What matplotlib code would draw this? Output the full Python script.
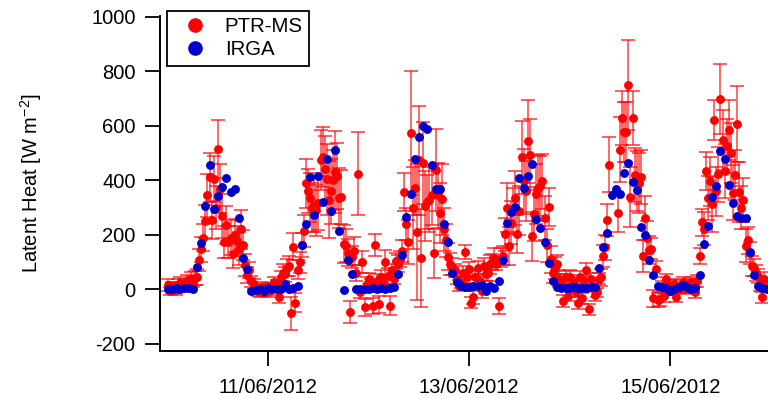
import numpy as np
import matplotlib
matplotlib.use("Agg")
import matplotlib.pyplot as plt
import matplotlib.dates as mdates
from matplotlib.lines import Line2D

plt.rcParams['font.family'] = ['Liberation Sans', 'DejaVu Sans']
plt.rcParams['mathtext.default'] = 'regular'

# ---------------- data ----------------
irga_start = np.datetime64('2012-06-10T00:00')   # hourly IRGA
ptr_start = np.datetime64('2012-06-10T00:00')    # half-hourly PTR-MS

irga_le = [
    3, 2, 4, 3, 5, 6, 2,
    83, 170, 308, 455, 294, 342, 375, 408, 357, 370, 262, 115, 74, -4,
    -2, 3, -6, 4, 2, 3, 2, 19, 2, 5, 12,
    162, 240, 411, 274, 418, 322, 477, 289, 513, 213, -3, 108, 58, 0,
    1, 3, 2, 4, 3, 5, 2, 6, 10,
    58, 128, 265, 351, 479, 558, 599, 590, 455, 370, 370, 239, 173, 60, 29, 13,
    8, 10, 12, 13, 15, -5, 13, 4, 32, 108,
    245, 284, 304, 410, 372, 418, 462, 257, 227, 174, 96, 31, 8, 5,
    7, 6, 8, 5, 7, 6, 8, 10,
    78, 154, 206, 345, 367, 352, 428, 463, 395, 365, 228, 200, 107, 53, 12, 8,
    4, -5, 2, 10, 18, 8, 2, 5,
    52, 166, 233, 339, 380, 507, 480, 384, 319, 270, 262, 264, 138, 53, 13, 5, 3,
]

nan = np.nan
ptr_le = [
    15, -5, 8, 10, -3, 15, 25, 8, 20, 30, 15, 38, 28, 42,
    45, 108, 147, 190, 250, 345, 412, 255, 405, 300, 516, 370, 270, 174, 235, 174,
    190, 129, 199, 178, 150, 220, 163, 89, 52, 72,
    30, 19, 5, -5, -11, 8, -8, 3, -6, 10, 0, 26, 15, -26, 44, 62, 55, 80, 86, -87,
    157, -48, 72, 99, 163, 214,
    389, 361, 336, 300, 310, 290, 318, 474, 487, 443, 404, 330, 360, 400, 430, 416,
    336, 340, 166, 160, 135, -84, 120, 141, 60, 424, -11, 101,
    -66, 20, 40, 15, -60, 162, 30, -55, 45, 25, 99, 50, -60, 70, 40, 105, 95, 111,
    141, 357, 240, 174, 574, 300, 374, 210, 474, 116, 463, 306, 321, 330, 345, 132,
    437, 345, 279, 331, 220, 180, 120, 93, 84, 70, 40, 13,
    25, 60, 138, 44, 74, -48, -29, 45, 80, 30, -5, 85, 55, 60, 93, 100, 117, 95, -60,
    117, 123,
    202, 300, 160, 245, 288, 336, 205, 288, 485, 397, 361, 544, 495, 196, 276, 350,
    373, 380, 397, 263, 162, 304, 111, 62, 80, 93, 40, 30,
    -42, 44, -23, 47, 20, 32, -11, -50, 44, -33, 30, 72, -72, 38, 10, -21, -11, 40,
    44, 123, 154, 255, 458, nan, nan, nan, 282, 513, 629, 578, 577, 751, 340, 629,
    420, 397, 391, 412, 123, 263, 190, 145, 150, -33, 74, -38,
    -35, 10, -23, 38, 5, 13, -5, 20, -29, 1, 15, 26, 5, 1, 20, 26, 1, -11, 30,
    123, 247, 223, 434, 336, 397, 312, 621, 361, 422, 699, 550, 434, 526, 584, 501,
    355, 420, 607, 357, 300, 328, 160, 180, 135, 86, 80, 60, 50, 20, -29, 38, 10,
]

ptr_err = [
    22, 15, 20, 18, 16, 22, 20, 18, 20, 22, 18, 25, 20, 25,
    30, 40, 45, 50, 60, 80, 90, 70, 85, 80, 107, 90, 80, 60, 70, 60,
    65, 50, 60, 55, 60, 70, 55, 40, 30, 30,
    20, 18, 15, 20, 18, 20, 15, 18, 20, 15, 22, 20, 18, 25, 25, 30, 28, 30, 35, 60,
    50, 35, 35, 40, 45, 60,
    90, 80, 90, 90, 100, 95, 100, 110, 110, 120, 130, 140, 120, 110, 150, 120,
    110, 100, 70, 60, 50, 40, 40, 50, 30, 152, 20, 40,
    30, 25, 20, 25, 30, 40, 25, 30, 25, 20, 45, 30, 35, 25, 20, 30, 30, 30,
    40, 70, 60, 80, 229, 150, 100, 250, 200, 180, 150, 130, 100, 120, 110, 90,
    150, 120, 110, 130, 80, 60, 50, 40, 30, 25, 20, 20,
    20, 25, 25, 22, 25, 20, 25, 30, 25, 20, 25, 30, 25, 30, 35, 30, 35, 25, 30,
    35, 35,
    60, 90, 70, 80, 85, 100, 70, 90, 133, 120, 110, 152, 130, 90, 100, 110,
    120, 110, 100, 80, 60, 70, 50, 40, 40, 35, 30, 25,
    22, 25, 20, 25, 22, 20, 18, 22, 25, 20, 22, 25, 20, 22, 20, 22, 18, 20,
    30, 40, 45, 60, 100, 0, 0, 0, 70, 120, 98, 110, 110, 165, 110, 100,
    100, 110, 110, 100, 60, 80, 60, 50, 40, 30, 30, 25,
    25, 20, 22, 20, 18, 20, 15, 20, 18, 15, 20, 18, 20, 15, 20, 18, 15, 20, 22,
    30, 50, 60, 70, 80, 90, 100, 73, 90, 100, 128, 110, 100, 100, 110, 110,
    100, 90, 140, 110, 80, 80, 60, 50, 40, 35, 30, 30, 25, 25, 20, 25, 20,
]

y_ticks = [-200, 0, 200, 400, 600, 800, 1000]
x_ticks = ['2012-06-11', '2012-06-13', '2012-06-15']
series_names = ['PTR-MS', 'IRGA']


def to_num(t):
    return mdates.date2num(np.asarray(t).astype('datetime64[s]').astype(object))


# ---------------- build ----------------
irga_t = irga_start + np.arange(len(irga_le)) * np.timedelta64(60, 'm')
ptr_t = ptr_start + np.arange(len(ptr_le)) * np.timedelta64(30, 'm')
irga_x = to_num(irga_t)
ptr_x = to_num(ptr_t)

fig = plt.figure(figsize=(7.68, 3.99), dpi=100)
W, H = 768, 399
ax = fig.add_axes([159.9 / W, 1 - 350.7 / H, 1 - 159.9 / W, (350.7 - 15.5) / H])

ax.errorbar(ptr_x, np.array(ptr_le, float), yerr=np.array(ptr_err, float),
            fmt='none', ecolor=(1.0, 0.0, 0.0, 0.68), elinewidth=1.2,
            capsize=5, capthick=1.3, zorder=2)
ax.plot(ptr_x, ptr_le, 'o', color='#ff0000', markersize=6.4,
        markeredgewidth=0, zorder=3)
ax.plot(irga_x, irga_le, 'o', color='#0000cc', markersize=6.4,
        markeredgewidth=0, zorder=4)

# axis ranges
x_left = float(to_num(np.datetime64('2012-06-11T00:00'))) - (268.2 - 159.9) / 100.5
x_right = x_left + (768 - 159.9) / 100.5
ax.set_xlim(x_left, x_right)
ax.set_ylim(-224.6, 1005)

ax.set_yticks(y_ticks)
ax.set_yticklabels([str(v) for v in y_ticks])
ax.set_xticks([float(to_num(np.datetime64(d))) for d in x_ticks])
ax.xaxis.set_major_formatter(mdates.DateFormatter('%d/%m/%Y'))
ax.minorticks_off()

for s in ['top', 'right']:
    ax.spines[s].set_visible(False)
for s in ['left', 'bottom']:
    ax.spines[s].set_linewidth(1.4)

ax.tick_params(axis='both', direction='out', length=10.5, width=1.3,
               labelsize=14.5, colors='black')
ax.tick_params(axis='y', pad=7)
ax.tick_params(axis='x', pad=9.5)

ax.set_ylabel('Latent Heat [W m$^{-2}$]', fontsize=14.5)
ax.yaxis.set_label_coords(-0.19, 0.5)

handles = [Line2D([], [], marker='o', linestyle='none', color='#ff0000', markersize=9.5),
           Line2D([], [], marker='o', linestyle='none', color='#0000cc', markersize=9.5)]
leg = fig.legend(handles, series_names, loc='upper left',
                 bbox_to_anchor=(167.3 / W, 1 - 10.7 / H),
                 bbox_transform=fig.transFigure, frameon=True, fancybox=False,
                 edgecolor='black', fontsize=14.7, handlelength=2.1,
                 handletextpad=0.4, borderpad=0.32, labelspacing=0.2,
                 borderaxespad=0.0)
leg.get_frame().set_linewidth(1.3)
leg.get_frame().set_alpha(1)

fig.savefig('out.png', dpi=100)
